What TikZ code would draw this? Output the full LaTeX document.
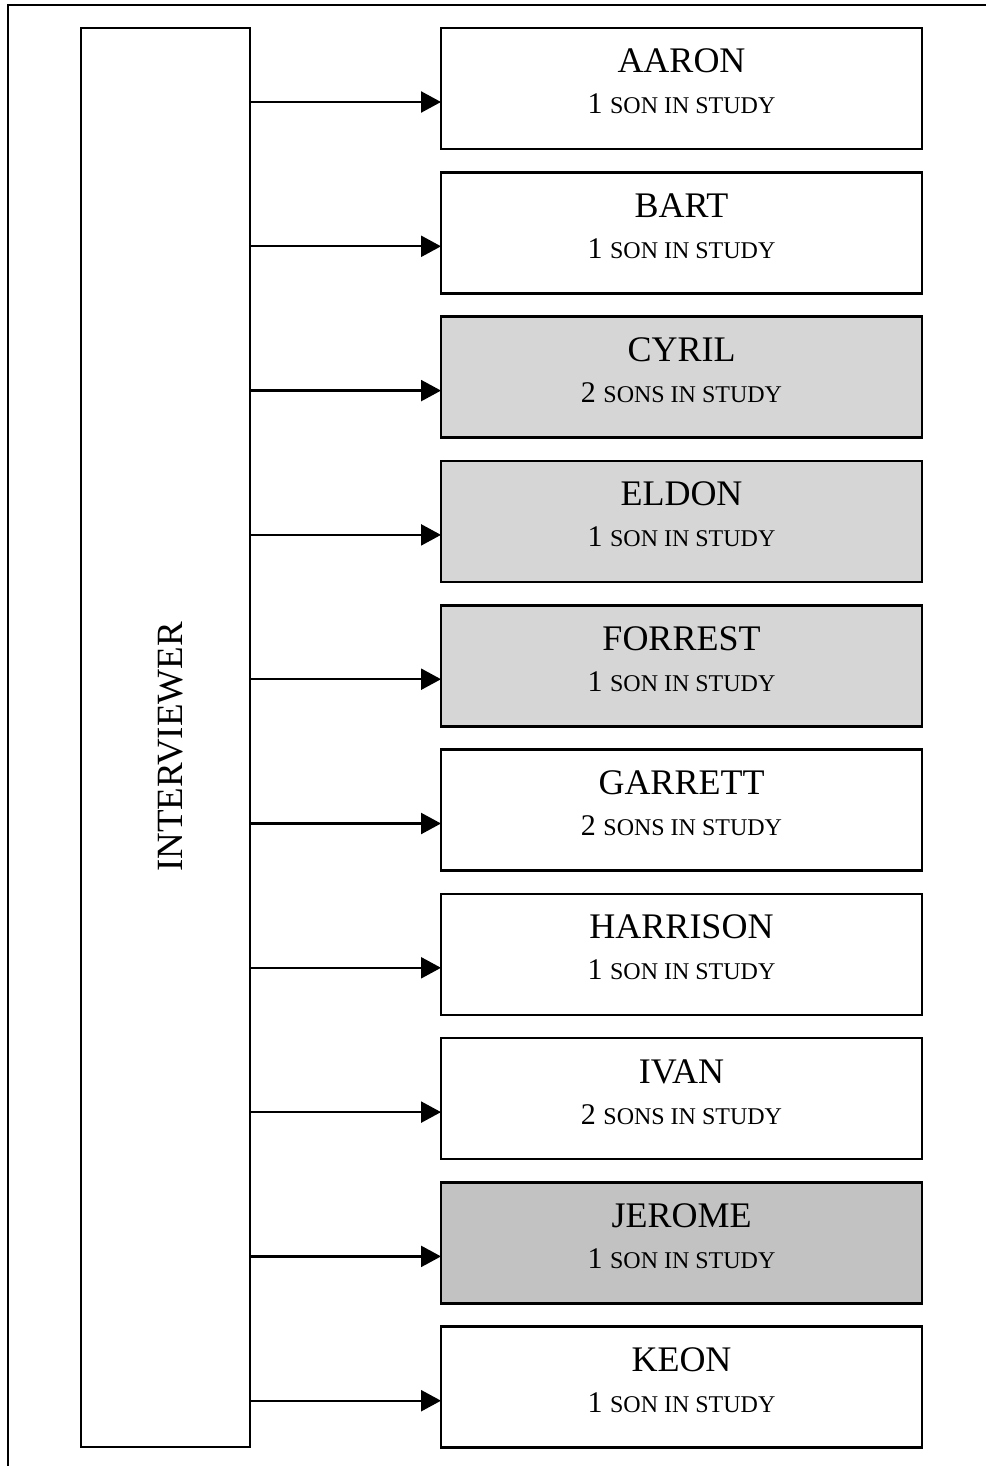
\documentclass[tikz,border=0pt]{standalone}
\usepackage{fontspec}
\setmainfont{Liberation Serif}
\usetikzlibrary{arrows.meta}
\definecolor{lightg}{HTML}{D6D6D6}
\definecolor{darkg}{HTML}{C2C2C2}
\newcommand{\nmtext}[1]{{\fontsize{18}{21}\selectfont #1}}
\newcommand{\subtext}[2]{{\fontsize{15}{18}\selectfont #1\ {\fontsize{12}{14}\selectfont #2 IN STUDY}}}
\begin{document}
\begin{tikzpicture}[x=0.5pt,y=-0.5pt,
  frame/.style={line width=1.2pt,black},
  box/.style={draw=black,line width=1.3pt,minimum width=240.5pt,minimum height=60.5pt,inner sep=0pt,outer sep=0pt},
  intbox/.style={draw=black,line width=1.3pt,minimum width=84.5pt,minimum height=709.5pt,inner sep=0pt,outer sep=0pt},
  arr/.style={line width=1.2pt,-{Triangle[length=10pt,width=10.5pt]}},
  lbl/.style={anchor=base,inner sep=0pt}]
\useasboundingbox (0,0) rectangle (986,1466);
\coordinate (fa) at (8,1466);
\coordinate (fb) at (8,5);
\coordinate (fc) at (986,5);
\draw[frame] (fa) -- (fb) -- (fc);
\node[intbox] (int) at (165.5,737.5) {};
\node[lbl,rotate=90] (intl) at (182,747) {\fontsize{18.5}{21}\selectfont INTERVIEWER};
\foreach \i/\nam/\n/\s/\f in {0/AARON/1/SON/white,1/BART/1/SON/white,2/CYRIL/2/SONS/lightg,3/ELDON/1/SON/lightg,4/FORREST/1/SON/lightg,5/GARRETT/2/SONS/white,6/HARRISON/1/SON/white,7/IVAN/2/SONS/white,8/JEROME/1/SON/darkg,9/KEON/1/SON/white}{
  \pgfmathsetmacro{\t}{28+144.3*\i}
  \node[box,fill=\f] (b\i) at (681.5,\t+60.5) {};
  \node[lbl] (n\i) at (681.5,\t+45) {\nmtext{\nam}};
  \node[lbl] (s\i) at (681.5,\t+86) {\subtext{\n}{\s}};
  \coordinate (y\i) at (0,\t+74);
  \draw[arr] (int.east |- y\i) -- (b\i.west |- y\i);
}
\end{tikzpicture}
\end{document}
